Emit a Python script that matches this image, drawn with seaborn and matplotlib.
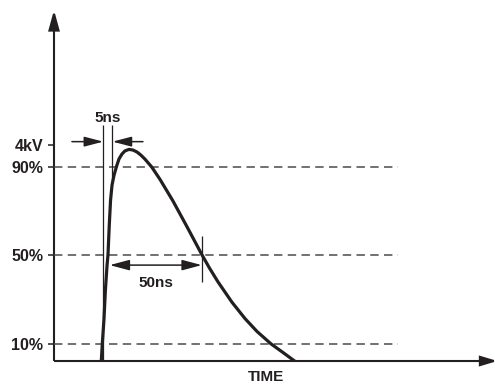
import numpy as np
import pandas as pd
import matplotlib
matplotlib.use("Agg")
import matplotlib.pyplot as plt
from matplotlib.patches import FancyArrowPatch
import seaborn as sns

# ESD pulse waveform: time in ns, amplitude in % of the 4 kV peak
time_ns = [0.0, 0.7, 1.6, 2.4, 3.3, 3.8, 4.5, 5.2, 6.0, 7.1, 8.5, 9.8, 11.4, 13.0,
           15.2, 17.4, 19.6, 21.7, 23.9, 27.6, 32.1, 39.1, 46.7, 54.9, 59.0, 63.6,
           71.2, 78.3, 84.8, 92.4, 98.9, 108.9]
voltage_pct = [0.0, 10.0, 20.8, 34.4, 45.6, 50.2, 63.7, 75.0, 81.8, 86.3, 90.4, 93.6,
               95.8, 97.2, 97.9, 97.6, 96.7, 95.3, 93.5, 89.9, 84.3, 74.6, 63.0, 50.2,
               44.2, 38.0, 28.8, 21.4, 15.6, 10.0, 6.1, 0.0]

levels_pct = [10, 50, 90]
tick_values = [10, 50, 90, 100]
tick_labels = ["10%", "50%", "90%", "4kV"]

rise_markers_ns = [1.25, 6.25]      # 5 ns rise-time markers
width_span_ns = [4.75, 54.75]       # 50 ns pulse width
rise_label = "5ns"
width_label = "50ns"
x_label = "TIME"

INK = "#231f20"

sns.set_style("white")
plt.rcParams["font.family"] = ["Liberation Sans", "DejaVu Sans"]

fig = plt.figure(figsize=(4.95, 3.85), dpi=100)
ax = fig.add_axes([54 / 495, 24 / 385, 439 / 495, 351 / 385])
ax.set_xlim(-25.54, 213.04)
ax.set_ylim(2.26, 160.9)
for s in ax.spines.values():
    s.set_visible(False)

# axes drawn as arrows
def axis_arrow(xy_from, xy_to, hl, hw):
    ax.add_patch(FancyArrowPatch(
        xy_from, xy_to, transform=ax.transAxes, clip_on=False,
        arrowstyle=f"-|>,head_length={hl},head_width={hw}",
        mutation_scale=1, lw=1.5, color=INK, shrinkA=0, shrinkB=0,
        joinstyle="miter", capstyle="butt"))

axis_arrow((0, 0), (0, 1), 12, 3.3)
axis_arrow((0, 0), (1.01, 0), 10, 3.0)

# reference levels
ax.hlines(levels_pct, -25.54, 161.4, colors="#4a4a4a", lw=1.1,
          linestyles=(0, (5.5, 3.5)), zorder=1)

# waveform
df = pd.DataFrame({"t": time_ns, "v": voltage_pct})
sns.lineplot(data=df, x="t", y="v", ax=ax, color=INK, lw=2.3,
             estimator=None, sort=False, zorder=3)
ax.lines[-1].set_solid_joinstyle("round")

# rise-time markers
v_curve = np.interp(rise_markers_ns[1], time_ns[:15], voltage_pct[:15])
ax.vlines(rise_markers_ns[0], 2.26, 108.9, colors=INK, lw=0.9, zorder=2)
ax.vlines(rise_markers_ns[1], v_curve, 108.9, colors=INK, lw=0.9, zorder=2)

arrow_kw = dict(mutation_scale=1, lw=1.1, color=INK, shrinkA=0, shrinkB=0)
ax.add_patch(FancyArrowPatch((-15.8, 101.4), (rise_markers_ns[0], 101.4),
                             arrowstyle="-|>,head_length=11.5,head_width=3", **arrow_kw))
ax.add_patch(FancyArrowPatch((22.8, 101.4), (rise_markers_ns[1], 101.4),
                             arrowstyle="-|>,head_length=11.5,head_width=3", **arrow_kw))
ax.text(np.mean(rise_markers_ns), 110.4, rise_label, ha="center", va="baseline",
        fontsize=11, fontweight="bold", color=INK)

# pulse-width marker
ax.add_patch(FancyArrowPatch((width_span_ns[0], 45.6), (width_span_ns[1], 45.6),
                             arrowstyle="<|-|>,head_length=12,head_width=3.2", **arrow_kw))
ax.vlines(width_span_ns[1], 38.0, 58.8, colors=INK, lw=0.9, zorder=2)
ax.text(np.mean(width_span_ns), 35.7, width_label, ha="center", va="baseline",
        fontsize=11, fontweight="bold", color=INK)

# ticks and labels
ax.set_xticks([])
ax.set_yticks(tick_values)
ax.set_yticklabels(tick_labels, fontsize=11.5, fontweight="bold", color=INK)
ax.tick_params(axis="y", left=True, direction="out", length=4.3, width=1.1,
               color=INK, pad=3.6)
ax.set_xlabel("")
ax.set_ylabel("")
ax.text(0.483, -0.057, x_label, transform=ax.transAxes, ha="center", va="baseline",
        fontsize=11, fontweight="bold", color=INK, clip_on=False)

fig.savefig("out.png", dpi=100)
